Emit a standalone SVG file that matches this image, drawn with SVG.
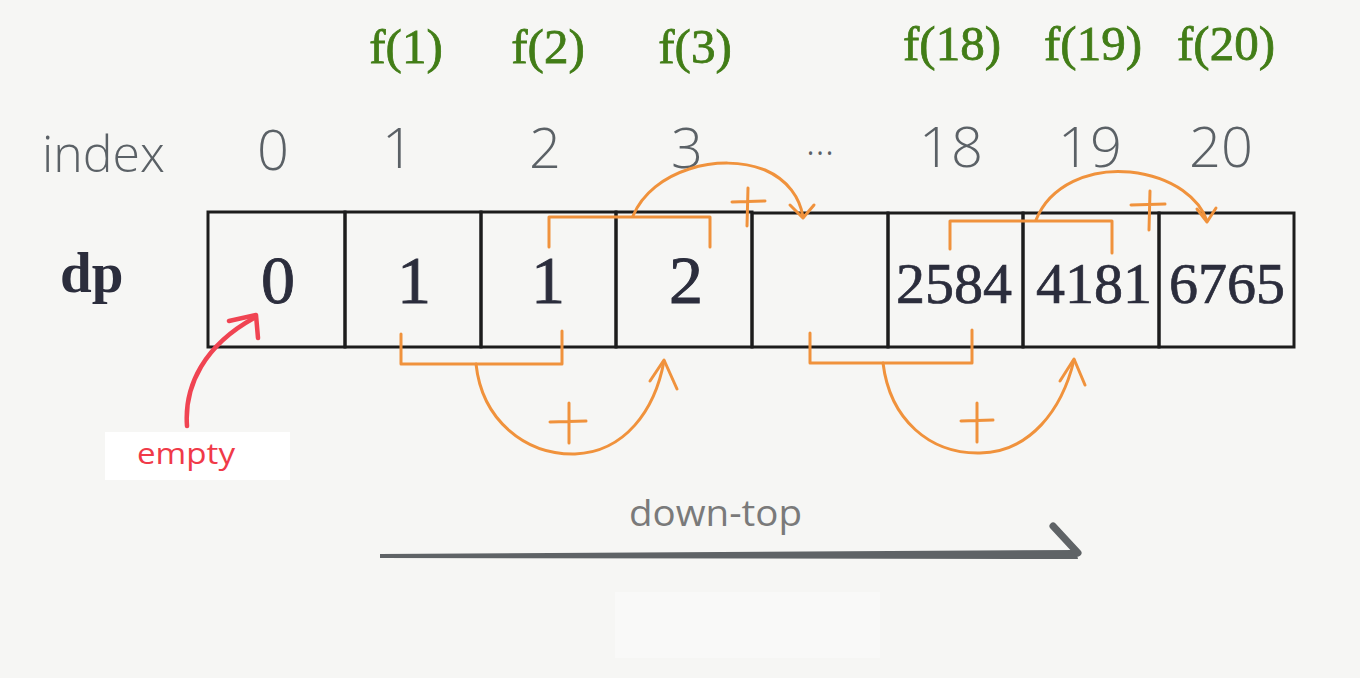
<svg xmlns="http://www.w3.org/2000/svg" width="1360" height="678" viewBox="0 0 1360 678">
  <style>
    .f { font-family: "Liberation Serif", "DejaVu Serif", serif; font-size: 49px; fill: #427d17; stroke: #427d17; stroke-width: 0.8; text-anchor: middle; }
    .idx { font-family: "Open Sans", "Noto Sans", sans-serif; font-weight: 300; font-size: 56px; fill: #5b6166; text-anchor: middle; }
    .cell { fill: none; stroke: #1c1c1c; stroke-width: 3; }
    .v1 { font-family: "Liberation Serif", "DejaVu Serif", serif; font-size: 68px; fill: #2b2d3c; stroke: #2b2d3c; stroke-width: 0.9; text-anchor: middle; }
    .v4 { font-family: "Liberation Serif", "DejaVu Serif", serif; font-size: 58px; fill: #2b2d3c; stroke: #2b2d3c; stroke-width: 0.7; text-anchor: middle; }
    .or { fill: none; stroke: #f0923c; stroke-width: 3; stroke-linecap: round; stroke-linejoin: round; }
  </style>
  <rect width="1360" height="678" fill="#f6f6f4"/>
  <rect x="105" y="432" width="185" height="48" fill="#ffffff"/>
  <rect x="615" y="592" width="265" height="66" fill="#f9f9f8"/>

  <g id="f-labels">
    <text class="f" x="406" y="63">f(1)</text>
    <text class="f" x="548" y="63">f(2)</text>
    <text class="f" x="695" y="63">f(3)</text>
    <text class="f" x="952" y="60">f(18)</text>
    <text class="f" x="1093" y="60">f(19)</text>
    <text class="f" x="1226" y="60">f(20)</text>
  </g>

  <g id="index-row">
    <text x="42" y="172" style="font-family:'Open Sans','Noto Sans',sans-serif;font-weight:300;font-size:50px;fill:#5b6166">index</text>
    <text class="idx" x="273" y="170">0</text>
    <text class="idx" x="398" y="168">1</text>
    <text class="idx" x="545" y="168">2</text>
    <text class="idx" x="687" y="168">3</text>
    <text class="idx" x="820" y="167" style="font-size:40px">···</text>
    <text class="idx" x="951" y="167">18</text>
    <text class="idx" x="1090" y="167">19</text>
    <text class="idx" x="1221" y="167">20</text>
  </g>

  <g id="dp-label">
    <text x="60" y="292" style="font-family:'Liberation Serif','DejaVu Serif',serif;font-weight:bold;font-size:57px;fill:#2b2d3c">dp</text>
  </g>

  <g id="cell0"><rect class="cell" x="208" y="212" width="137" height="135"/><text class="v1" x="278" y="303">0</text></g>
  <g id="cell1"><rect class="cell" x="345" y="212" width="136" height="135"/><text class="v1" x="414" y="303">1</text></g>
  <g id="cell2"><rect class="cell" x="481" y="212" width="135" height="135"/><text class="v1" x="548" y="303">1</text></g>
  <g id="cell3"><rect class="cell" x="616" y="212" width="136" height="135"/><text class="v1" x="686" y="303">2</text></g>
  <g id="cell-dots"><rect class="cell" x="752" y="213" width="136" height="134"/></g>
  <g id="cell18"><rect class="cell" x="888" y="213" width="135" height="134"/><text class="v4" x="954" y="303">2584</text></g>
  <g id="cell19"><rect class="cell" x="1023" y="213" width="136" height="134"/><text class="v4" x="1094" y="303">4181</text></g>
  <g id="cell20"><rect class="cell" x="1159" y="213" width="135" height="134"/><text class="v4" x="1227" y="303">6765</text></g>

  <g id="connectors">
    <!-- top bracket 1 -->
    <path class="or" d="M549,247 L549,217 L710,217 L710,247"/>
    <path class="or" d="M633,216 C652,170 720,152 765,170 C788,180 800,198 803,217"/>
    <path class="or" d="M790,205 L803,218 L814,205"/>
    <path class="or" d="M748,188 L747,226 M732,202 L765,201"/>
    <!-- top bracket 2 -->
    <path class="or" d="M950,249 L950,221 L1112,221 L1112,253"/>
    <path class="or" d="M1036,220 C1050,185 1090,168 1130,172 C1175,177 1200,200 1207,221"/>
    <path class="or" d="M1197,209 L1207,222 L1216,208"/>
    <path class="or" d="M1150,191 L1149,230 M1131,205 L1165,204"/>
    <!-- bottom bracket 1 -->
    <path class="or" d="M401,334 L401,364 L562,364 L562,331"/>
    <path class="or" d="M476,364 C482,420 525,455 575,454 C625,452 655,410 664,361"/>
    <path class="or" d="M650,381 L664,360 L677,389"/>
    <path class="or" d="M569,403 L569,443 M550,422 L586,421"/>
    <!-- bottom bracket 2 -->
    <path class="or" d="M810,333 L810,363 L972,363 L972,330"/>
    <path class="or" d="M883,363 C890,420 930,454 980,453 C1030,452 1062,410 1074,360"/>
    <path class="or" d="M1060,381 L1074,359 L1085,385"/>
    <path class="or" d="M977,403 L977,442 M961,421 L993,420"/>
    <!-- red arrow -->
    <path d="M187,426 C184,385 205,345 254,318" fill="none" stroke="#f04452" stroke-width="4.5" stroke-linecap="round"/>
    <path d="M229,321 L256,315 L258,338" fill="none" stroke="#f04452" stroke-width="4.5" stroke-linecap="round" stroke-linejoin="round"/>
    <!-- down-top arrow -->
    <path d="M380,554 L1076,550 L1078,559 L380,558 Z" fill="#5f6366"/>
    <path d="M1053,526 L1078,553" fill="none" stroke="#5f6366" stroke-width="7" stroke-linecap="round"/>
  </g>

  <g id="empty-label">
    <text x="137" y="464" textLength="98" lengthAdjust="spacingAndGlyphs" style="font-family:'Open Sans','Noto Sans',sans-serif;font-size:30px;fill:#f03a48">empty</text>
  </g>
  <g id="down-top-label">
    <text x="629" y="526" textLength="173" lengthAdjust="spacingAndGlyphs" style="font-family:'Open Sans','Noto Sans',sans-serif;font-size:37px;fill:#7a7a7a">down-top</text>
  </g>
</svg>
